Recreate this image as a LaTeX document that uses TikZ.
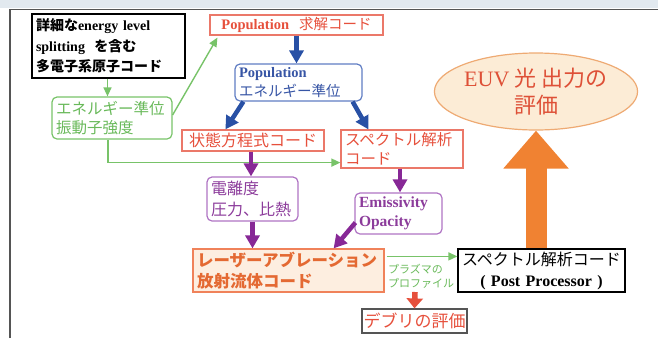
\documentclass[tikz,border=0pt]{standalone}
\usepackage{fontspec}
\setmainfont{Liberation Serif}
\newfontfamily\jp{Noto Sans CJK JP}
\usetikzlibrary{arrows.meta,shapes.geometric}
\definecolor{gline}{RGB}{120,195,105}
\definecolor{gtext}{RGB}{105,185,90}
\definecolor{rtext}{RGB}{230,80,60}
\definecolor{rline}{RGB}{235,120,105}
\definecolor{bline}{RGB}{95,125,195}
\definecolor{btext}{RGB}{55,85,165}
\definecolor{barrow}{RGB}{40,80,165}
\definecolor{pline}{RGB}{175,115,195}
\definecolor{ptext}{RGB}{140,60,155}
\definecolor{parrow}{RGB}{135,40,150}
\definecolor{ofill}{RGB}{253,238,224}
\definecolor{oline}{RGB}{240,130,90}
\definecolor{otext}{RGB}{228,105,50}
\definecolor{obig}{RGB}{240,130,50}
\definecolor{efill}{RGB}{252,236,214}
\definecolor{eline}{RGB}{238,170,115}
\definecolor{etext}{RGB}{222,80,55}
\definecolor{band}{RGB}{226,233,239}
\definecolor{frame}{RGB}{85,85,85}
\begin{document}
\begin{tikzpicture}[x=1pt,y=-1pt,
  boxbase/.style={draw,line width=1.2pt,inner xsep=4pt,inner ysep=0pt,anchor=center},
  redbox/.style={boxbase,draw=rline,text=rtext},
  thin/.style={draw=gline,line width=1.4pt,-{Triangle[length=9pt,width=8pt]}},
  bluearr/.style={draw=barrow,line width=4.5pt,-{Triangle[length=13pt,width=14pt]}},
  purparr/.style={draw=parrow,line width=4.5pt,-{Triangle[length=13pt,width=14pt]}},
  redarr/.style={draw=rtext,line width=5.5pt,-{Triangle[length=10pt,width=16pt]}},
  bigarr/.style={draw=obig,line width=21pt,-{Triangle[length=38pt,width=63pt]}}
]
\useasboundingbox (0,0) rectangle (658,338);
\fill[band] (0,0) rectangle (658,8);
\draw[frame,line width=1.5pt] (10,338) -- (10,9.5) -- (658,9.5);

% nodes
\node[boxbase,draw=black,text=black,align=left,text width=145pt,minimum height=64pt,
  font=\fontsize{14}{20.5}\selectfont] (atom) at (108.5,46)
  {{\jp\bfseries 詳細な}\textbf{energy level}\\\textbf{splitting}\ \ {\jp\bfseries を含む}\\{\jp\bfseries 多電子系原子コード}};
\node[boxbase,draw=gline,text=gtext,rounded corners=5pt,align=left,text width=112pt,minimum height=42pt,
  font=\jp\fontsize{15.5}{19.5}\selectfont] (lev) at (112,118)
  {エネルギー準位\\振動子強度};
\node[redbox,minimum width=173pt,minimum height=20pt,inner xsep=0pt,
  font=\fontsize{14.5}{16}\selectfont] (pop) at (296.5,25)
  {\textbf{Population}\hspace{10pt}{\jp 求解コード}};
\node[boxbase,draw=bline,text=btext,rounded corners=5pt,align=left,text width=119pt,minimum height=37pt,
  font=\fontsize{14.5}{19}\selectfont] (blev) at (298.5,82.5)
  {\textbf{Population}\\{\jp エネルギー準位}};
\node[redbox,minimum width=142pt,minimum height=21pt,inner xsep=0pt,
  font=\jp\fontsize{16}{18}\selectfont] (eos) at (253,140.5)
  {状態方程式コード};
\node[redbox,align=left,text width=114pt,minimum height=38pt,
  font=\jp\fontsize{15.5}{19}\selectfont] (spec) at (402,149)
  {スペクトル解析\\コード};
\node[boxbase,draw=pline,text=ptext,rounded corners=5pt,align=left,text width=83pt,minimum height=44pt,
  font=\jp\fontsize{16}{21}\selectfont] (ion) at (252.5,199)
  {電離度\\圧力、比熱};
\node[boxbase,draw=pline,text=ptext,rounded corners=5pt,align=left,text width=79pt,minimum height=41pt,
  font=\bfseries\fontsize{15.5}{19.5}\selectfont] (emis) at (398.5,213.5)
  {Emissivity\\Opacity};
\node[boxbase,draw=oline,fill=ofill,text=otext,align=left,text width=183pt,minimum height=43pt,
  font=\jp\bfseries\fontsize{16.5}{21}\selectfont] (laser) at (288.5,270.5)
  {レーザーアブレーション\\放射流体コード};
\node[boxbase,draw=black,text=black,align=center,text width=159pt,minimum height=43pt,
  font=\fontsize{16}{21}\selectfont] (pp) at (541.5,270.5)
  {{\jp スペクトル解析コード}\\\textbf{( Post Processor )}};
\node[boxbase,draw=frame,text=rtext,minimum width=105pt,minimum height=24pt,inner xsep=0pt,
  font=\jp\fontsize{17}{19}\selectfont] (debris) at (414.5,321)
  {デブリの評価};
\node[ellipse,draw=eline,fill=efill,line width=1.2pt,minimum width=198pt,minimum height=77pt,inner sep=0pt,
  text=etext,align=center,font=\fontsize{22}{27}\selectfont] (euv) at (536,91.5)
  {EUV {\jp 光 出力の}\\{\jp 評価}};
\node[text=gtext,align=left,inner sep=0pt,font=\jp\fontsize{11}{14}\selectfont] (prof) at (421,276)
  {プラズマの\\プロファイル};
\coordinate (dtop) at (415,292);

% connectors
\draw[thin] ([xshift=-1pt]atom.south) -- ([xshift=-1pt]atom.south |- lev.north);
\draw[thin] ([yshift=3pt]lev.east) -- ([xshift=8pt,yshift=-2pt]pop.south west);
\draw[thin] ([xshift=-4pt]lev.south) |- ([yshift=6pt]spec.south west);
\draw[bluearr] (pop.south) -- (pop.south |- blev.north);
\draw[bluearr] ([xshift=9pt]blev.south west) -- ([xshift=44pt]eos.north west);
\draw[bluearr] ([xshift=-10pt]blev.south east) -- ([xshift=28pt]spec.north west);
\draw[purparr] ([xshift=-2pt]eos.south) -- ([xshift=-2pt]eos.south |- ion.north);
\draw[purparr] (ion.south) -- (ion.south |- laser.north);
\draw[purparr] ([xshift=-2pt]spec.south) -- ([xshift=-2pt]spec.south |- emis.north);
\draw[purparr] ([xshift=1pt,yshift=12pt]emis.south west) -- ([xshift=-51pt]laser.north east);
\draw[thin] ([xshift=2pt,yshift=-8pt]laser.north east) -- ([yshift=-8pt]pp.north west);
\draw[redarr] (dtop) -- (debris.north);
\draw[bigarr] ([xshift=-5.5pt]pp.north) -- (euv.south);
\end{tikzpicture}
\end{document}
